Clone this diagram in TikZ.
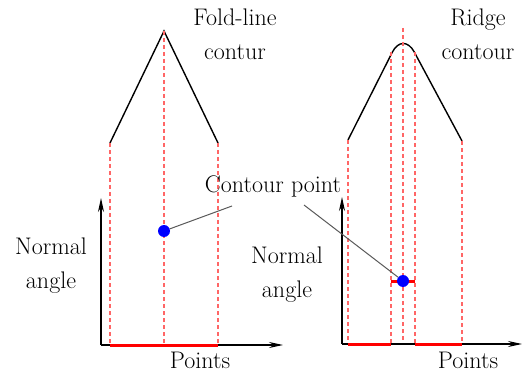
\documentclass[tikz,border=0pt]{standalone}
\usetikzlibrary{arrows.meta, positioning}

\begin{document}
\begin{tikzpicture}[x=1pt,y=-1pt,
  guide/.style={red!60,dash pattern=on 4pt off 3pt,line width=1.1pt},
  axis/.style={line width=1.3pt,-{Stealth[length=14pt,width=6pt]}},
  hit/.style={red,line width=3pt},
  lbl/.style={font=\fontsize{24}{34}\selectfont,anchor=base,inner sep=0pt,align=center},
  dot/.style={circle,fill=blue,inner sep=0pt,minimum size=12pt},
  lead/.style={black!65,line width=1pt}]
  \useasboundingbox (0,0) rectangle (522,374);
  % fold-line contour
  \draw[line width=1.4pt] (110,143) -- (164,31) -- (218,143);
  \foreach \x/\y in {110/143, 164/31, 218/143}
    \draw[guide] (\x,\y) -- (\x,345);
  \draw[axis] (101,345) -- (101,198);
  \draw[axis] (101,345) -- (283,345);
  \draw[hit] (110,345) -- (218,345);
  \node[dot] (dotA) at (164,231) {};
  % ridge contour
  \draw[line width=1.4pt,rounded corners=24pt] (348,140) -- (403,31) -- (462,141);
  \foreach \x/\y in {348/140, 391/52, 403/28, 415/52, 462/141}
    \draw[guide] (\x,\y) -- (\x,344);
  \draw[axis] (342,344) -- (342,197);
  \draw[axis] (342,344) -- (522,344);
  \draw[hit] (348,344) -- (391,344);
  \draw[hit] (415,344) -- (462,344);
  \draw[hit] (391,281) -- (415,281);
  \node[dot] (dotB) at (403,281) {};
  % labels
  \node[lbl] (fold) at (235,60) {Fold-line\\contur};
  \node[lbl] (ridge) at (478,60) {Ridge\\contour};
  \node[lbl] (angA) at (51,288) {Normal\\angle};
  \node[lbl] (angB) at (287,297) {Normal\\angle};
  \node[lbl] (ptsA) at (200,368) {Points};
  \node[lbl] (ptsB) at (468,368) {Points};
  \node[lbl] (cp) at (273,193) {Contour point};
  \coordinate (leadA) at (232,206);
  \coordinate (leadB) at (304,205);
  \draw[lead] (dotA) -- (leadA);
  \draw[lead] (leadB) -- (dotB);
\end{tikzpicture}
\end{document}
